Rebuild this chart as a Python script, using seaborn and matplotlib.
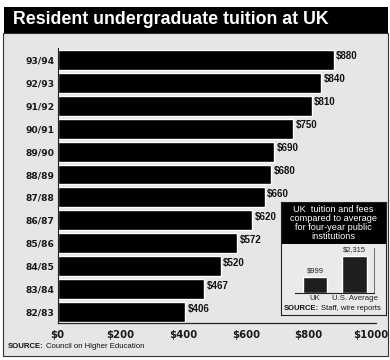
import matplotlib
matplotlib.use("Agg")
import matplotlib.pyplot as plt
from matplotlib.patches import Rectangle
import seaborn as sns
import pandas as pd

# ---- data ----
years = ["93/94", "92/93", "91/92", "90/91", "89/90", "88/89",
         "87/88", "86/87", "85/86", "84/85", "83/84", "82/83"]
tuition = [880, 840, 810, 750, 690, 680, 660, 620, 572, 520, 467, 406]
x_ticks = [0, 200, 400, 600, 800, 1000]
x_tick_labels = ["$0", "$200", "$400", "$600", "$800", "$1000"]

inset_cats = ["UK", "U.S. Average"]
inset_vals = [999, 2315]
inset_labels = ["$999", "$2,315"]

title = "Resident undergraduate tuition at UK"
inset_title = "UK  tuition and fees\ncompared to average\nfor four-year public\ninstitutions"

sns.set_theme(style="white")
plt.rcParams["font.family"] = ["Liberation Sans", "DejaVu Sans"]

W, H = 390, 360
fig = plt.figure(figsize=(W / 100, H / 100), dpi=100)
fig.patch.set_facecolor("white")


def fx(px):
    return px / W


def fy(py):
    return 1 - py / H


# panel background and border
fig.patches.append(Rectangle((fx(3), fy(356)), fx(385), 323 / H,
                             transform=fig.transFigure, facecolor="#e6e6e4",
                             edgecolor="#333333", linewidth=0.8, zorder=-2))
# title bar
fig.patches.append(Rectangle((fx(4), fy(33)), fx(384), 26 / H,
                             transform=fig.transFigure, facecolor="black",
                             edgecolor="none", zorder=-1))
fig.text(fx(13), fy(20), title, color="white", fontsize=12.8, fontweight="bold",
         va="center", ha="left")

# ---- main chart ----
ax = fig.add_axes([fx(57.5), fy(323), fx(376 - 57.5), (323 - 48) / H], zorder=1)
ax.set_facecolor("none")
df = pd.DataFrame({"year": years, "tuition": tuition})
sns.barplot(data=df, y="year", x="tuition", orient="h", color="black",
            saturation=1, width=0.87, ax=ax)
ax.set_xlim(0, 1015)
ax.set_ylim(len(years) - 0.52, -0.52)
ax.set_xlabel("")
ax.set_ylabel("")
ax.set_xticks(x_ticks)
ax.set_xticklabels(x_tick_labels, fontfamily="DejaVu Sans", fontweight="bold",
                   fontsize=7.3, color="#1a1a1a")
ax.tick_params(axis="x", direction="in", length=2, width=0.6, pad=5, color="#333")
ax.tick_params(axis="y", length=0, pad=2)
for lab in ax.get_yticklabels():
    lab.set_fontfamily("DejaVu Sans")
    lab.set_fontweight("bold")
    lab.set_fontsize(6.6)
    lab.set_color("#1a1a1a")
for s in ["top", "right"]:
    ax.spines[s].set_visible(False)
ax.spines["left"].set_linewidth(0.8)
ax.spines["left"].set_color("#222")
ax.spines["bottom"].set_linewidth(0.9)
ax.spines["bottom"].set_color("#222")
for i, v in enumerate(tuition):
    ax.text(v + 8, i - 0.15, f"${v}", fontsize=7, fontweight="bold",
            va="center", ha="left", color="#111")

# source
fig.canvas.draw()
r = fig.canvas.get_renderer()
t1 = fig.text(fx(8), fy(347), "SOURCE:", fontsize=5.6, fontweight="bold",
              va="center", ha="left", color="#111")
bb = t1.get_window_extent(renderer=r)
fig.text(bb.x1 / W + fx(2), fy(347), "Council on Higher Education", fontsize=5.6,
         va="center", ha="left", color="#111")

# ---- inset ----
ibox = fig.add_axes([fx(281), fy(315), fx(105), 113 / H], zorder=3)
ibox.set_xlim(0, 1)
ibox.set_ylim(0, 1)
ibox.set_xticks([])
ibox.set_yticks([])
ibox.set_facecolor("#eaeae8")
for s in ibox.spines.values():
    s.set_linewidth(0.8)
    s.set_color("#222")
ibox.add_patch(Rectangle((0, 71 / 113), 1, 42 / 113, facecolor="black",
                         edgecolor="none"))
ibox.text(0.5, (315 - 223) / 113, inset_title, color="white", fontsize=6.6,
          ha="center", va="center", linespacing=0.98)

iax = fig.add_axes([fx(295), fy(293), fx(374 - 295), (293 - 248) / H], zorder=5)
iax.set_facecolor("none")
idf = pd.DataFrame({"cat": inset_cats, "val": inset_vals})
sns.barplot(data=idf, x="cat", y="val", color="#1e1e1e", saturation=1,
            width=0.63, ax=iax)
iax.set_xlim(-0.506, 1.49)
iax.set_ylim(0, 45 * 63)
iax.set_xlabel("")
iax.set_ylabel("")
iax.set_yticks([])
iax.tick_params(axis="x", length=0, pad=1.5, labelsize=5.6, labelcolor="#222")
for s in ["top", "left"]:
    iax.spines[s].set_visible(False)
iax.spines["right"].set_linewidth(0.6)
iax.spines["right"].set_color("#555")
iax.spines["bottom"].set_linewidth(0.8)
iax.spines["bottom"].set_color("#222")
for i, (v, l) in enumerate(zip(inset_vals, inset_labels)):
    iax.text(i, v + 180, l, fontsize=5.4, ha="center", va="bottom", color="#222")

t2 = fig.text(fx(284), fy(309), "SOURCE:", fontsize=5.5, fontweight="bold",
              va="center", ha="left", color="#111", zorder=6)
bb2 = t2.get_window_extent(renderer=r)
fig.text(bb2.x1 / W + fx(2), fy(309), "Staff, wire reports", fontsize=5.5,
         va="center", ha="left", color="#111", zorder=6)

fig.savefig("out.png", dpi=100)
